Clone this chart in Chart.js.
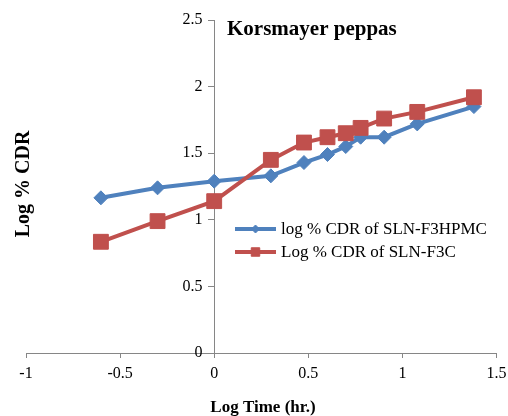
<!DOCTYPE html>
<html>
<head>
<meta charset="utf-8">
<script src="https://cdn.jsdelivr.net/npm/chart.js@4/dist/chart.umd.min.js"></script>
<style>
html,body{margin:0;padding:0;background:#fff;}
#c{display:block;}
</style>
</head>
<body>
<canvas id="c" width="508" height="416"></canvas>
<script>
const logTime = [-0.602, -0.301, 0, 0.301, 0.477, 0.602, 0.699, 0.778, 0.903, 1.079, 1.380];
const cdrF3HPMC = [1.165, 1.24, 1.29, 1.33, 1.43, 1.49, 1.55, 1.62, 1.62, 1.72, 1.85];
const cdrF3C = [0.835, 0.99, 1.14, 1.45, 1.58, 1.62, 1.65, 1.69, 1.76, 1.81, 1.92];
const seriesNames = ['log % CDR of SLN-F3HPMC', 'Log % CDR of SLN-F3C'];
const xTicks = [-1, -0.5, 0, 0.5, 1, 1.5];
const yTicks = [0, 0.5, 1, 1.5, 2, 2.5];
const chartTitle = 'Korsmayer peppas';
const xTitle = 'Log Time (hr.)';
const yTitle = 'Log % CDR';

const BLUE = '#4F81BD', RED = '#C0504D', AXIS = '#868686';
const FONT = '"Liberation Serif", "Times New Roman", serif';

const toPts = ys => logTime.map((x, i) => ({x: x, y: ys[i]}));
const fmt = v => String(v);

const textPlugin = {
  id: 'texts',
  afterDraw(chart) {
    const ctx = chart.ctx;
    ctx.save();
    ctx.fillStyle = '#000';
    // chart title
    ctx.font = 'bold 21px ' + FONT;
    ctx.textAlign = 'left';
    ctx.textBaseline = 'alphabetic';
    ctx.fillText(chartTitle, 227, 35);
    // x title
    ctx.font = 'bold 17px ' + FONT;
    ctx.textAlign = 'center';
    ctx.fillText(xTitle, 263, 412);
    // y title
    ctx.save();
    ctx.translate(24, 184);
    ctx.rotate(-Math.PI / 2);
    ctx.font = 'bold 20px ' + FONT;
    ctx.textAlign = 'center';
    ctx.textBaseline = 'middle';
    ctx.fillText(yTitle, 0, 0);
    ctx.restore();
    // legend
    const items = [
      {name: seriesNames[0], color: BLUE, style: 'rectRot', r: 4, y: 229},
      {name: seriesNames[1], color: RED, style: 'rect', r: 6, y: 252}
    ];
    ctx.font = '17px ' + FONT;
    ctx.textAlign = 'left';
    ctx.textBaseline = 'middle';
    items.forEach(it => {
      ctx.strokeStyle = it.color;
      ctx.lineWidth = 4;
      ctx.beginPath();
      ctx.moveTo(235, it.y);
      ctx.lineTo(276, it.y);
      ctx.stroke();
      ctx.fillStyle = it.color;
      ctx.lineWidth = 1;
      Chart.helpers.drawPoint(ctx, {pointStyle: it.style, radius: it.r, borderWidth: 1, rotation: 0}, 255.5, it.y);
      ctx.fillStyle = '#000';
      ctx.fillText(it.name, 281, it.y + 1);
    });
    ctx.restore();
  }
};

new Chart(document.getElementById('c'), {
  type: 'line',
  data: {
    datasets: [
      {
        label: seriesNames[0],
        data: toPts(cdrF3HPMC),
        borderColor: BLUE,
        backgroundColor: BLUE,
        borderWidth: 4,
        pointStyle: 'rectRot',
        pointRadius: 7,
        pointBorderWidth: 1,
        pointHoverRadius: 7,
        order: 1
      },
      {
        label: seriesNames[1],
        data: toPts(cdrF3C),
        borderColor: RED,
        backgroundColor: RED,
        borderWidth: 4,
        pointStyle: 'rect',
        pointRadius: 10.5,
        pointBorderWidth: 1,
        pointHoverRadius: 10.5,
        order: 0
      }
    ]
  },
  options: {
    responsive: false,
    animation: false,
    devicePixelRatio: 1,
    layout: {padding: {left: 26, right: 11, top: 20, bottom: 0}},
    plugins: {legend: {display: false}, tooltip: {enabled: false}, title: {display: false}},
    scales: {
      x: {
        type: 'linear',
        position: 'bottom',
        min: -1, max: 1.5,
        afterBuildTicks(scale) { scale.ticks = xTicks.map(v => ({value: v})); },
        afterFit(scale) { scale.height = 63; scale.paddingRight = 0; scale.paddingLeft = 0; },
        ticks: {color: '#000', font: {family: FONT, size: 16}, padding: 6, maxRotation: 0, callback: fmt},
        grid: {display: true, drawOnChartArea: false, drawTicks: true, tickLength: 5, color: AXIS},
        border: {display: true, color: AXIS, width: 1}
      },
      y: {
        type: 'linear',
        position: {x: 0},
        min: 0, max: 2.5,
        afterBuildTicks(scale) { scale.ticks = yTicks.map(v => ({value: v})); },
        ticks: {display: false},
        grid: {display: true, drawOnChartArea: false, drawTicks: true, tickLength: 6, color: AXIS},
        border: {display: true, color: AXIS, width: 1}
      },
      yLabels: {
        type: 'linear',
        axis: 'y',
        position: {x: -0.062},
        min: 0, max: 2.5,
        afterBuildTicks(scale) { scale.ticks = yTicks.map(v => ({value: v})); },
        ticks: {color: '#000', font: {family: FONT, size: 16}, callback: fmt},
        grid: {display: false},
        border: {display: false}
      }
    }
  },
  plugins: [textPlugin]
});
</script>
</body>
</html>
